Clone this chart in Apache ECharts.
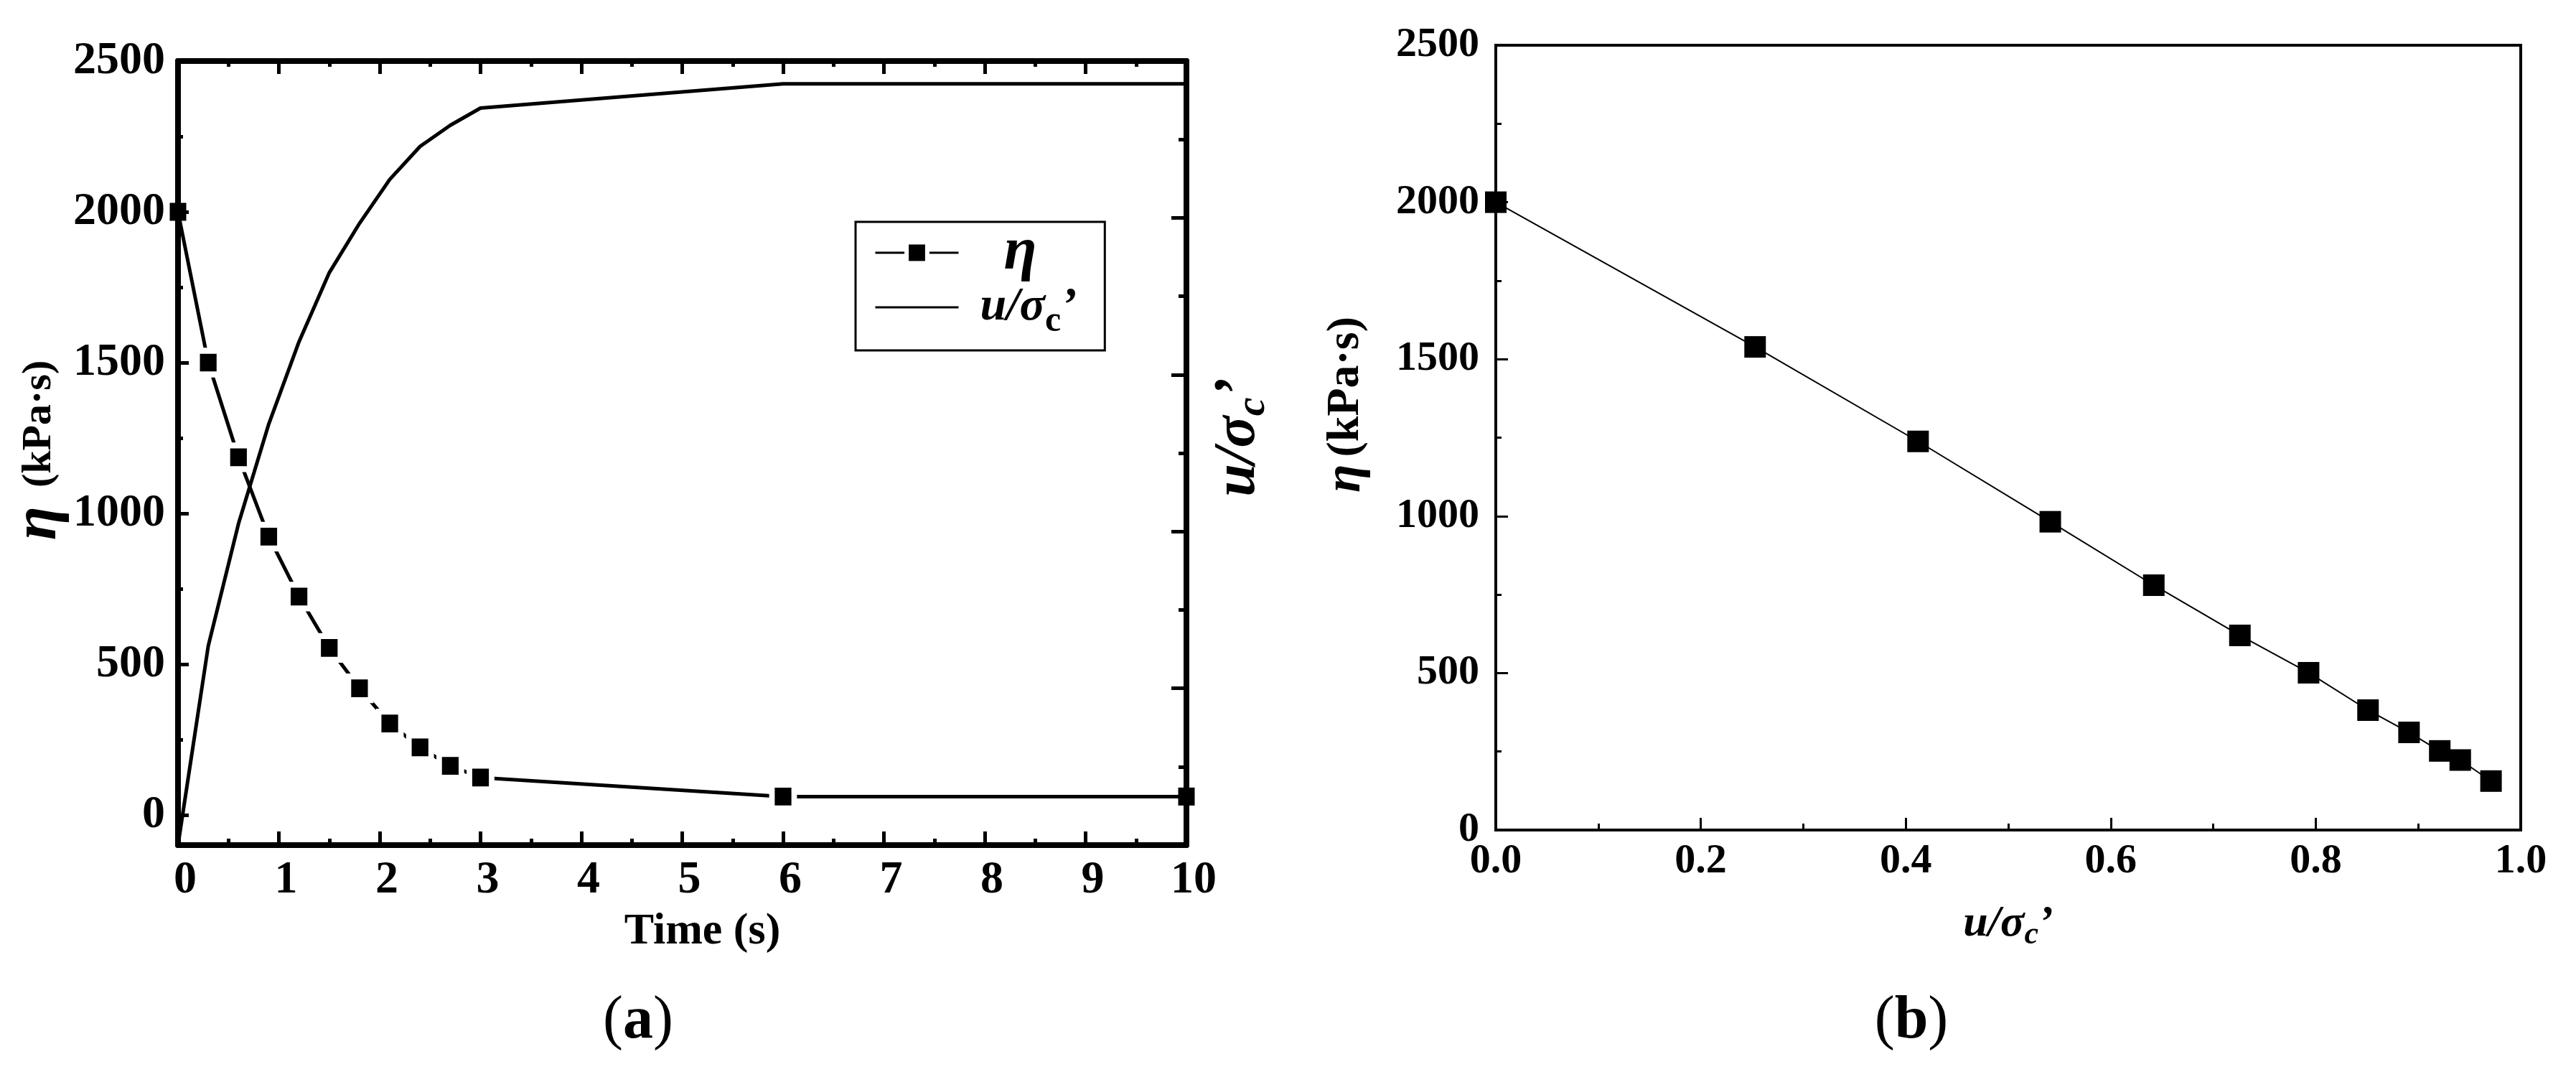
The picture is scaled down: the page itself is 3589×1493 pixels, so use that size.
<!DOCTYPE html>
<html>
<head>
<meta charset="utf-8">
<script src="https://cdn.jsdelivr.net/npm/echarts@6/dist/echarts.min.js"></script>
<style>
html,body{margin:0;padding:0;background:#fff;}
#chart{width:3589px;height:1493px;}
</style>
</head>
<body>
<div id="chart"></div>
<script>
// ---------- data (a) ----------
const timeA = [0, 0.3, 0.6, 0.9, 1.2, 1.5, 1.8, 2.1, 2.4, 2.7, 3, 6, 10];
const etaA  = [2000, 1500, 1186, 923, 724, 554, 420, 303, 224, 163, 124, 61, 61];
const uA    = [0, 0.254, 0.41, 0.537, 0.642, 0.730, 0.793, 0.849, 0.891, 0.918, 0.940, 0.971, 0.971];
// ---------- data (b) ----------
const uB    = [0, 0.253, 0.412, 0.541, 0.642, 0.726, 0.793, 0.851, 0.891, 0.921, 0.941, 0.971];
const etaB  = [2000, 1539, 1238, 982, 780, 620, 501, 382, 311, 252, 223, 156];
// ---------- tick labels ----------
const etaTicksA = [0, 500, 1000, 1500, 2000, 2500];
const etaMinorA = [250, 750, 1250, 1750, 2250];

const FONT = "'Liberation Serif','Times New Roman',serif";

function uRich(size, subSize, lh, subShift, subItalic) {
  const base = {fontFamily: FONT, fontStyle: 'italic', fontWeight: 'bold', fontSize: size, lineHeight: lh, color: '#000'};
  return {
    u:   Object.assign({}, base),
    sig: Object.assign({}, base),
    sub: {fontFamily: FONT, fontStyle: subItalic ? 'italic' : 'normal', fontWeight: 'bold', fontSize: subSize,
          lineHeight: 4, padding: [subShift * 2, 0, 0, 0], color: '#000'},
    pr:  Object.assign({}, base)
  };
}
const U_TEXT = '{u|u/}{sig|σ}{sub|c}{pr|’}';
const ETA_NAME = '{eta|η}{unit|(kPa·s)}';
const numFmt = v => String(v);

const chart = echarts.init(document.getElementById('chart'), null, {renderer: 'canvas'});

const etaDataA = timeA.map((t, i) => {
  const item = {value: [t, etaA[i]]};
  if (i === 0 || i === timeA.length - 1) {
    item.itemStyle = {borderWidth: 0};
    item.symbolSize = [23, 25];
  }
  return item;
});
const uDataA = timeA.map((t, i) => [t, uA[i]]);
const dataB = uB.map((u, i) => [u, etaB[i]]);

const axisLineA = {show: true, onZero: false, lineStyle: {color: '#000', width: 8}};
const axisLineB = {show: true, onZero: false, lineStyle: {color: '#000', width: 4}};

const legendRich = Object.assign({
  eta: {fontFamily: FONT, fontStyle: 'italic', fontWeight: 'bold', fontSize: 84, lineHeight: 56, padding: [0, 0, 0, 58], color: '#000'}
}, uRich(66, 50, 56, 20, false));
legendRich.u.padding = [0, 0, 0, 25];

function etaRich(etaSize, unitSize, lh, gap) {
  return {
    eta: {fontFamily: FONT, fontStyle: 'italic', fontWeight: 'bold', fontSize: etaSize, lineHeight: lh, color: '#000'},
    unit: {fontFamily: FONT, fontWeight: 'bold', fontSize: unitSize, lineHeight: lh, padding: [0, 0, 0, gap], color: '#000'}
  };
}

const option = {
  animation: false,
  backgroundColor: '#fff',
  grid: [
    {left: 248, top: 85, width: 1405, height: 1092, containLabel: false},
    {left: 2084, top: 63, width: 1428, height: 1093, containLabel: false,
     show: true, borderColor: '#000', borderWidth: 4, backgroundColor: 'transparent'}
  ],
  legend: {
    data: [
      {name: 'η', itemStyle: {borderWidth: 6}},
      {name: 'u/σc’', itemStyle: {opacity: 0}}
    ],
    left: 1192, top: 309,
    orient: 'vertical',
    itemWidth: 116, itemHeight: 36, itemGap: -11,
    padding: [1, 39, 15, 26],
    borderColor: '#000', borderWidth: 3,
    selectedMode: false,
    lineStyle: {width: 3},
    formatter: function (name) {
      return name === 'η' ? '{eta|η}' : U_TEXT;
    },
    textStyle: {rich: legendRich}
  },
  xAxis: [
    {
      gridIndex: 0, type: 'value', position: 'bottom', min: 0, max: 10, interval: 1,
      axisLine: axisLineA,
      axisTick: {show: true, inside: true, length: 19, lineStyle: {width: 5, color: '#000'}},
      minorTick: {show: true, splitNumber: 2, length: 9, lineStyle: {width: 5, color: '#000'}},
      splitLine: {show: false}, minorSplitLine: {show: false},
      axisLabel: {show: true, margin: 17, fontFamily: FONT, fontWeight: 'bold', fontSize: 64, color: '#000', padding: [0, 0, 0, 20], formatter: numFmt},
      name: 'Time (s)', nameLocation: 'middle', nameGap: 90,
      nameTextStyle: {fontFamily: FONT, fontWeight: 'bold', fontSize: 62, color: '#000', padding: [0, 0, 0, 56]}
    },
    {
      gridIndex: 0, type: 'value', position: 'top', min: 0, max: 10, interval: 1,
      axisLine: axisLineA,
      axisTick: {show: true, inside: true, length: 18, lineStyle: {width: 5, color: '#000'}},
      minorTick: {show: true, splitNumber: 2, length: 8, lineStyle: {width: 5, color: '#000'}},
      splitLine: {show: false}, axisLabel: {show: false}
    },
    {
      gridIndex: 1, type: 'value', position: 'bottom', min: 0, max: 1, interval: 0.2,
      axisLine: axisLineB,
      axisTick: {show: true, inside: true, length: 17, lineStyle: {width: 3, color: '#000'}},
      minorTick: {show: true, splitNumber: 2, length: 9, lineStyle: {width: 3, color: '#000'}},
      splitLine: {show: false}, minorSplitLine: {show: false},
      axisLabel: {show: true, margin: 15, fontFamily: FONT, fontWeight: 'bold', fontSize: 58, color: '#000',
        formatter: v => v.toFixed(1)},
      name: U_TEXT, nameLocation: 'middle', nameGap: 100,
      nameTextStyle: {rich: uRich(62, 44, 62, 16, true)}
    }
  ],
  yAxis: [
    {
      gridIndex: 0, type: 'value', position: 'left', min: -100, max: 2500,
      axisLine: axisLineA,
      axisTick: {show: true, inside: true, length: 15, customValues: etaTicksA, lineStyle: {width: 5, color: '#000'}},
      axisLabel: {show: true, margin: 18, customValues: etaTicksA, fontFamily: FONT, fontWeight: 'bold', fontSize: 64, color: '#000', formatter: numFmt},
      splitLine: {show: false},
      name: ETA_NAME, nameLocation: 'middle', nameRotate: 90, nameGap: 134,
      nameTextStyle: {padding: [0, 0, 0, 8], rich: etaRich(86, 58, 70, 26)}
    },
    {
      gridIndex: 0, type: 'value', position: 'left', min: -100, max: 2500,
      axisLine: {show: false, onZero: false},
      axisTick: {show: true, inside: true, length: 7, customValues: etaMinorA, lineStyle: {width: 5, color: '#000'}},
      axisLabel: {show: false},
      splitLine: {show: false}
    },
    {
      gridIndex: 0, type: 'value', position: 'right', min: 0, max: 1, interval: 0.2,
      axisLine: axisLineA,
      axisTick: {show: true, inside: true, length: 21, lineStyle: {width: 5, color: '#000'}},
      minorTick: {show: true, splitNumber: 2, length: 11, lineStyle: {width: 5, color: '#000'}},
      axisLabel: {show: false},
      splitLine: {show: false}, minorSplitLine: {show: false},
      name: U_TEXT, nameLocation: 'middle', nameRotate: 90, nameGap: 34,
      nameTextStyle: {padding: [0, 0, 0, 44], rich: uRich(82, 58, 78, 20, true)}
    },
    {
      gridIndex: 1, type: 'value', position: 'left', min: 0, max: 2500, interval: 500,
      axisLine: axisLineB,
      axisTick: {show: true, inside: true, length: 17, lineStyle: {width: 3, color: '#000'}},
      minorTick: {show: true, splitNumber: 2, length: 8, lineStyle: {width: 3, color: '#000'}},
      axisLabel: {show: true, margin: 23, fontFamily: FONT, fontWeight: 'bold', fontSize: 58, color: '#000', formatter: numFmt},
      splitLine: {show: false}, minorSplitLine: {show: false},
      name: ETA_NAME, nameLocation: 'middle', nameRotate: 90, nameGap: 178,
      nameTextStyle: {padding: [0, 0, 0, 92], rich: etaRich(72, 64, 62, 10)}
    }
  ],
  series: [
    {
      name: 'η', type: 'line', xAxisIndex: 0, yAxisIndex: 0,
      data: etaDataA,
      symbol: 'rect', symbolSize: [31, 33],
      lineStyle: {color: '#000', width: 5},
      itemStyle: {color: '#000', borderColor: '#fff', borderWidth: 8},
      z: 3
    },
    {
      name: 'u/σc’', type: 'line', xAxisIndex: 0, yAxisIndex: 2,
      data: uDataA,
      symbol: 'none', showSymbol: false,
      lineStyle: {color: '#000', width: 5},
      itemStyle: {color: '#000'},
      z: 2
    },
    {
      name: 'b', type: 'line', xAxisIndex: 2, yAxisIndex: 3,
      data: dataB,
      symbol: 'rect', symbolSize: 30,
      lineStyle: {color: '#000', width: 2},
      itemStyle: {color: '#000'}
    }
  ],
  graphic: [
    {type: 'text', x: 889, y: 1423, style: {
      text: '{p|(}{l|a}{p|)}', align: 'center', verticalAlign: 'middle',
      rich: {
        p: {fontFamily: FONT, fontSize: 84, fontWeight: 'normal', lineHeight: 90, fill: '#000'},
        l: {fontFamily: FONT, fontSize: 84, fontWeight: 'bold', lineHeight: 90, fill: '#000'}
      }}},
    {type: 'text', x: 2663, y: 1423, style: {
      text: '{p|(}{l|b}{p|)}', align: 'center', verticalAlign: 'middle',
      rich: {
        p: {fontFamily: FONT, fontSize: 84, fontWeight: 'normal', lineHeight: 90, fill: '#000'},
        l: {fontFamily: FONT, fontSize: 84, fontWeight: 'bold', lineHeight: 90, fill: '#000'}
      }}}
  ]
};
chart.setOption(option);
</script>
</body>
</html>
